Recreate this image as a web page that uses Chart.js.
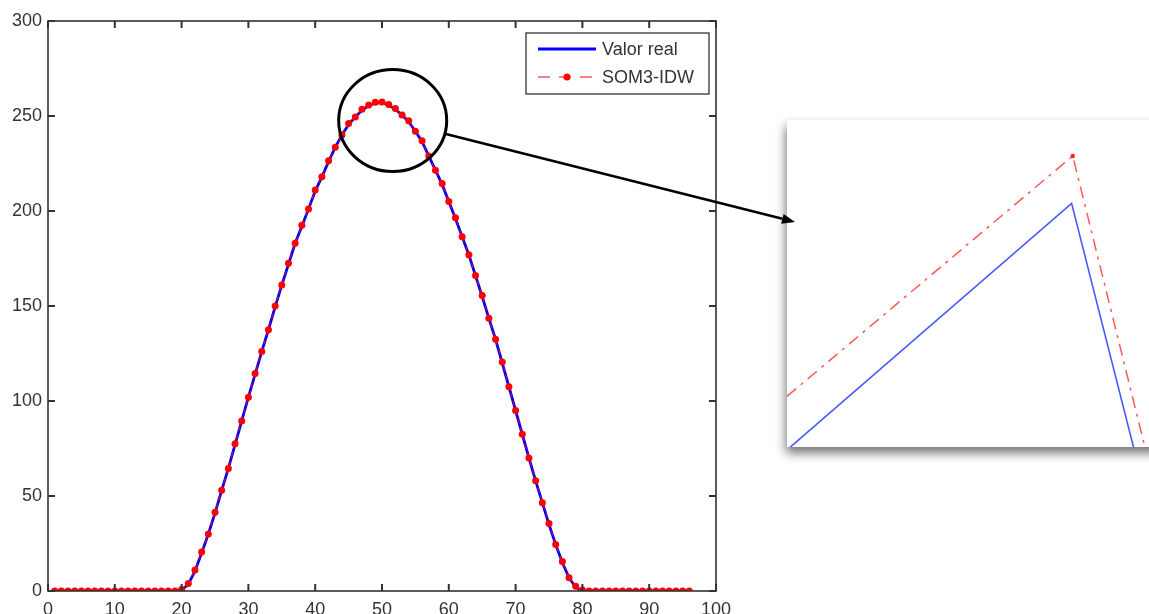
<!DOCTYPE html>
<html>
<head>
<meta charset="utf-8">
<script src="https://cdn.jsdelivr.net/npm/chart.js@4/dist/chart.umd.min.js"></script>
<style>
    html, body { margin: 0; padding: 0; width: 1149px; height: 614px; overflow: hidden; background: #fff; }
    #principal { position: absolute; left: 0; top: 0; width: 1149px; height: 614px; z-index: 2; }
    #detalhe { position: absolute; left: 787px; top: 120px; width: 380px; height: 327px; background: #fff;
        box-shadow: -1px 6px 10px rgba(0, 0, 0, 0.55); z-index: 1; }
</style>
</head>
<body>
<div id="detalhe"><canvas id="graficoDetalhe" width="380" height="327"></canvas></div>
<div id="principal"><canvas id="grafico" width="1149" height="614"></canvas></div>
<script>
// amostras (eixo x)
const amostras = [1, 2, 3, 4, 5, 6, 7, 8, 9, 10, 11, 12, 13, 14, 15, 16, 17, 18, 19, 20,
    21, 22, 23, 24, 25, 26, 27, 28, 29, 30, 31, 32, 33, 34, 35, 36, 37, 38, 39, 40,
    41, 42, 43, 44, 45, 46, 47, 48, 49, 50, 51, 52, 53, 54, 55, 56, 57, 58, 59, 60,
    61, 62, 63, 64, 65, 66, 67, 68, 69, 70, 71, 72, 73, 74, 75, 76, 77, 78, 79, 80,
    81, 82, 83, 84, 85, 86, 87, 88, 89, 90, 91, 92, 93, 94, 95, 96];

const valorReal = [0, 0, 0, 0, 0, 0, 0, 0, 0, 0, 0, 0, 0, 0, 0, 0, 0, 0, 0, 0.5,
    3.5, 10.5, 20, 30, 41, 53, 64.5, 77, 89.5, 102, 114, 126, 137.5, 149.5, 161, 172, 183, 192, 201, 210.5,
    218, 226, 233.5, 240, 245.5, 249.5, 253, 255.5, 256.8, 257, 255.8, 253.5, 250.5, 247, 242, 236.5, 229, 221.5, 214, 205,
    196, 186.5, 177, 166, 155, 143.5, 132.5, 120, 107.5, 95, 82.5, 70, 58, 46.5, 35, 24.5, 15, 7, 2, 0,
    0, 0, 0, 0, 0, 0, 0, 0, 0, 0, 0, 0, 0, 0, 0, 0];

const som3Idw = [0, 0, 0, 0, 0, 0, 0, 0, 0, 0, 0, 0, 0, 0, 0, 0, 0, 0, 0, 0.8,
    4, 11, 20.5, 30, 41.5, 53, 64.5, 77.5, 89.5, 102, 114.5, 126, 137.5, 150, 161, 172.5, 183, 192.5, 201, 211,
    218, 226.5, 233.5, 240, 246, 249.5, 253.5, 255.8, 257.2, 257.4, 256, 254, 250.5, 247.5, 242, 237, 229, 221.5, 214.5, 205,
    196.5, 186.5, 177, 166, 155.5, 143.5, 132.5, 120.5, 107.5, 95, 82.5, 70, 58, 46.5, 35.5, 24.5, 15.5, 7, 2.5, 0.5,
    0, 0, 0, 0, 0, 0, 0, 0, 0, 0, 0, 0, 0, 0, 0, 0];

const ticksX = [0, 10, 20, 30, 40, 50, 60, 70, 80, 90, 100];
const ticksY = [0, 50, 100, 150, 200, 250, 300];
const legendas = ['Valor real', 'SOM3-IDW'];

// trecho ampliado do pico (unidades do quadro de detalhe)
const detalheRealX = [0, 74.9, 91.4];
const detalheRealY = [-0.9, 74.5, -1];
const detalheSomX = [0, 75.2, 94.4];
const detalheSomY = [15.5, 89.0, -1];

// centro do círculo de destaque (valores do gráfico)
const destaqueX = 51.6;
const destaqueY = 247.6;

const corTexto = '#333';
const fonte = 'Liberation Sans, Arial, sans-serif';

function pares(xs, ys) {
    return xs.map((x, i) => ({ x: x, y: ys[i] }));
}

// moldura fechada com marcas para dentro, como no matlab
const moldura = {
    id: 'moldura',
    afterDraw(chart) {
        const ctx = chart.ctx;
        const a = chart.chartArea;
        const sx = chart.scales.x, sy = chart.scales.y;
        ctx.save();
        ctx.strokeStyle = corTexto;
        ctx.lineWidth = 1.6;
        ctx.strokeRect(a.left, a.top, a.right - a.left, a.bottom - a.top);
        ctx.lineWidth = 2;
        ctx.beginPath();
        ticksX.forEach(v => {
            let px = sx.getPixelForValue(v);
            ctx.moveTo(px, a.bottom); ctx.lineTo(px, a.bottom - 7);
            ctx.moveTo(px, a.top); ctx.lineTo(px, a.top + 7);
        });
        ticksY.forEach(v => {
            let py = sy.getPixelForValue(v);
            ctx.moveTo(a.left, py); ctx.lineTo(a.left + 7, py);
            ctx.moveTo(a.right, py); ctx.lineTo(a.right - 7, py);
        });
        ctx.stroke();
        ctx.restore();
    }
};

const legenda = {
    id: 'legenda',
    afterDraw(chart) {
        const ctx = chart.ctx;
        const x0 = 526, y0 = 33, w = 183, h = 61;
        ctx.save();
        ctx.fillStyle = '#fff';
        ctx.fillRect(x0, y0, w, h);
        ctx.strokeStyle = '#333';
        ctx.lineWidth = 1.3;
        ctx.strokeRect(x0, y0, w, h);

        // Valor real
        ctx.strokeStyle = '#0000ff';
        ctx.lineWidth = 3;
        ctx.beginPath();
        ctx.moveTo(538, 49); ctx.lineTo(596, 49);
        ctx.stroke();

        // SOM3-IDW
        ctx.strokeStyle = '#ff0000';
        ctx.lineWidth = 1;
        ctx.setLineDash([12, 9]);
        ctx.beginPath();
        ctx.moveTo(538, 77); ctx.lineTo(596, 77);
        ctx.stroke();
        ctx.setLineDash([]);
        ctx.fillStyle = '#ff0000';
        ctx.beginPath();
        ctx.arc(567, 77, 3.5, 0, Math.PI * 2);
        ctx.fill();

        ctx.fillStyle = corTexto;
        ctx.font = '18px ' + fonte;
        ctx.textBaseline = 'middle';
        ctx.fillText(legendas[0], 602, 50);
        ctx.fillText(legendas[1], 602, 78);
        ctx.restore();
    }
};

// círculo no pico e seta até o quadro ampliado
const destaque = {
    id: 'destaque',
    afterDraw(chart) {
        const ctx = chart.ctx;
        const cx = chart.scales.x.getPixelForValue(destaqueX);
        const cy = chart.scales.y.getPixelForValue(destaqueY);
        const rx = 54, ry = 51;
        const quadro = document.getElementById('detalhe');
        const fx = quadro.offsetLeft + 8, fy = quadro.offsetTop + 102;
        ctx.save();
        ctx.strokeStyle = '#000';
        ctx.lineWidth = 3;
        ctx.beginPath();
        ctx.ellipse(cx, cy, rx, ry, 0, 0, Math.PI * 2);
        ctx.stroke();

        const ang = Math.atan2((fy - cy) / ry, (fx - cx) / rx);
        const ix = cx + rx * Math.cos(ang), iy = cy + ry * Math.sin(ang);
        const dir = Math.atan2(fy - iy, fx - ix);
        const tam = 13, meia = 5;
        const bx = fx - tam * Math.cos(dir), by = fy - tam * Math.sin(dir);
        ctx.lineWidth = 2.6;
        ctx.beginPath();
        ctx.moveTo(ix, iy); ctx.lineTo(bx, by);
        ctx.stroke();
        ctx.fillStyle = '#000';
        ctx.beginPath();
        ctx.moveTo(fx, fy);
        ctx.lineTo(bx + meia * Math.sin(dir), by - meia * Math.cos(dir));
        ctx.lineTo(bx - meia * Math.sin(dir), by + meia * Math.cos(dir));
        ctx.closePath();
        ctx.fill();
        ctx.restore();
    }
};

new Chart(document.getElementById('grafico'), {
    type: 'line',
    data: {
        datasets: [{
            label: legendas[0],
            data: pares(amostras, valorReal),
            borderColor: '#0000ff',
            borderWidth: 2.8,
            pointRadius: 0,
            fill: false,
            order: 1
        },
        {
            label: legendas[1],
            data: pares(amostras, som3Idw),
            borderColor: '#ff0000',
            borderWidth: 1,
            borderDash: [5, 4],
            pointRadius: 3.5,
            pointBackgroundColor: '#ff0000',
            pointBorderWidth: 0,
            fill: false,
            order: 0
        }]
    },
    options: {
        responsive: false,
        animation: false,
        layout: { padding: { left: 0, top: 21, right: 433, bottom: 0 } },
        plugins: { legend: { display: false }, tooltip: { enabled: false } },
        scales: {
            x: {
                type: 'linear', min: 0, max: 100,
                afterFit: s => { s.height = 23; },
                afterBuildTicks: s => { s.ticks = ticksX.map(v => ({ value: v })); },
                grid: { display: false, drawTicks: false },
                border: { display: false },
                ticks: { color: corTexto, font: { family: fonte, size: 18 }, padding: 8, maxRotation: 0, autoSkip: false }
            },
            y: {
                type: 'linear', min: 0, max: 300,
                afterFit: s => { s.width = 48; },
                afterBuildTicks: s => { s.ticks = ticksY.map(v => ({ value: v })); },
                grid: { display: false, drawTicks: false },
                border: { display: false },
                ticks: { color: corTexto, font: { family: fonte, size: 18 }, padding: 6 }
            }
        }
    },
    plugins: [moldura, destaque, legenda]
});

new Chart(document.getElementById('graficoDetalhe'), {
    type: 'line',
    data: {
        datasets: [{
            data: pares(detalheRealX, detalheRealY),
            borderColor: 'rgba(50, 70, 255, 0.9)',
            borderWidth: 1.6,
            pointRadius: 0,
            fill: false
        },
        {
            data: pares(detalheSomX, detalheSomY),
            borderColor: 'rgba(255, 70, 70, 0.9)',
            borderWidth: 1.5,
            borderDash: [12, 6, 3, 6],
            pointRadius: [0, 2.2, 0],
            pointBackgroundColor: '#ff2020',
            pointBorderWidth: 0,
            fill: false
        }]
    },
    options: {
        responsive: false,
        animation: false,
        layout: { padding: 0 },
        plugins: { legend: { display: false }, tooltip: { enabled: false } },
        scales: {
            x: { type: 'linear', min: 0, max: 100, display: false },
            y: { type: 'linear', min: 0, max: 100, display: false }
        }
    }
});
</script>
</body>
</html>
